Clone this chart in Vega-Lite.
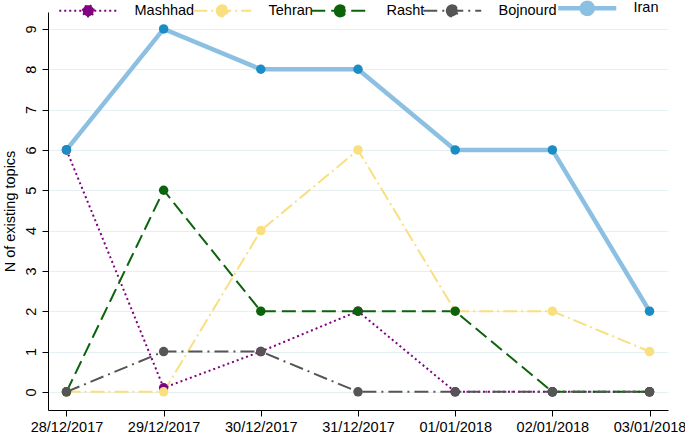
{
  "$schema": "https://vega.github.io/schema/vega-lite/v6.json",
  "autosize": "none",
  "width": 620,
  "height": 398,
  "padding": {"left": 48, "top": 12, "right": 17, "bottom": 31},
  "background": "white",
  "config": {
    "font": "Liberation Sans",
    "view": {"stroke": null},
    "axis": {"labelFont": "Liberation Sans", "titleFont": "Liberation Sans", "labelFontSize": 14.5, "titleFontSize": 14.5, "labelColor": "#000", "titleColor": "#000", "domainColor": "#000", "tickColor": "#000", "titleFontWeight": "normal"}
  },
  "data": {"values": [
    {"series": "Mashhad", "date": "28/12/2017", "value": 6},
    {"series": "Mashhad", "date": "29/12/2017", "value": 0.1},
    {"series": "Mashhad", "date": "30/12/2017", "value": 1},
    {"series": "Mashhad", "date": "31/12/2017", "value": 2},
    {"series": "Mashhad", "date": "01/01/2018", "value": 0},
    {"series": "Mashhad", "date": "02/01/2018", "value": 0},
    {"series": "Mashhad", "date": "03/01/2018", "value": 0},
    {"series": "Tehran", "date": "28/12/2017", "value": 0},
    {"series": "Tehran", "date": "29/12/2017", "value": 0},
    {"series": "Tehran", "date": "30/12/2017", "value": 4},
    {"series": "Tehran", "date": "31/12/2017", "value": 6},
    {"series": "Tehran", "date": "01/01/2018", "value": 2},
    {"series": "Tehran", "date": "02/01/2018", "value": 2},
    {"series": "Tehran", "date": "03/01/2018", "value": 1},
    {"series": "Rasht", "date": "28/12/2017", "value": 0},
    {"series": "Rasht", "date": "29/12/2017", "value": 5},
    {"series": "Rasht", "date": "30/12/2017", "value": 2},
    {"series": "Rasht", "date": "31/12/2017", "value": 2},
    {"series": "Rasht", "date": "01/01/2018", "value": 2},
    {"series": "Rasht", "date": "02/01/2018", "value": 0},
    {"series": "Rasht", "date": "03/01/2018", "value": 0},
    {"series": "Bojnourd", "date": "28/12/2017", "value": 0},
    {"series": "Bojnourd", "date": "29/12/2017", "value": 1},
    {"series": "Bojnourd", "date": "30/12/2017", "value": 1},
    {"series": "Bojnourd", "date": "31/12/2017", "value": 0},
    {"series": "Bojnourd", "date": "01/01/2018", "value": 0},
    {"series": "Bojnourd", "date": "02/01/2018", "value": 0},
    {"series": "Bojnourd", "date": "03/01/2018", "value": 0},
    {"series": "Iran", "date": "28/12/2017", "value": 6},
    {"series": "Iran", "date": "29/12/2017", "value": 9},
    {"series": "Iran", "date": "30/12/2017", "value": 8},
    {"series": "Iran", "date": "31/12/2017", "value": 8},
    {"series": "Iran", "date": "01/01/2018", "value": 6},
    {"series": "Iran", "date": "02/01/2018", "value": 6},
    {"series": "Iran", "date": "03/01/2018", "value": 2}
  ]},
  "encoding": {
    "x": {"field": "date", "type": "ordinal", "sort": null,
      "scale": {"type": "point", "padding": 0.19},
      "axis": {"title": null, "labelAngle": 0, "grid": false, "tickSize": 6, "labelPadding": 4, "domainWidth": 1}},
    "y": {"field": "value", "type": "quantitative",
      "scale": {"domain": [-0.45, 9.42], "nice": false, "zero": false},
      "axis": {"title": "N of existing topics", "values": [0,1,2,3,4,5,6,7,8,9], "labelAngle": -90, "labelAlign": "center", "labelBaseline": "bottom", "labelPadding": 4, "tickSize": 6, "grid": true, "gridColor": "#e6eff2", "gridWidth": 1, "titlePadding": 6}}
  },
  "layer": [
    {
      "transform": [{"filter": "datum.series !== 'Iran'"}],
      "mark": {"type": "line", "strokeWidth": 2},
      "encoding": {
        "color": {"field": "series", "type": "nominal",
          "scale": {"domain": ["Mashhad", "Tehran", "Rasht", "Bojnourd", "Iran"], "range": ["#800080", "#f9df7e", "#0b640b", "#555555", "#8cc0e2"]},
          "legend": {"title": null, "orient": "none", "legendX": 13, "legendY": -11, "direction": "horizontal",
            "symbolType": "M-1,0H1M-0.19,0A0.19,0.19 0 1,1 0.19,0A0.19,0.19 0 1,1 -0.19,0Z",
            "symbolSize": 3364, "symbolStrokeWidth": 2, "symbolOffset": 20, "labelFontSize": 14.5, "labelFont": "Liberation Sans", "labelColor": "#000", "labelOffset": 39, "columnPadding": -8,
            "encode": {"symbols": {"update": {
              "fill": {"signal": "({'Mashhad':'#800080','Tehran':'#f9df7e','Rasht':'#0b640b','Bojnourd':'#555555','Iran':'#1a8dc4'})[datum.value]"},
              "strokeWidth": {"signal": "datum.value === 'Iran' ? 4.5 : 2"}
            }}}}},
        "strokeDash": {"field": "series", "type": "nominal",
          "scale": {"domain": ["Mashhad", "Tehran", "Rasht", "Bojnourd", "Iran"], "range": [[2, 3], [14, 4, 2, 4], [14, 6], [14, 5, 2, 5], [1, 0]]}}
      }
    },
    {
      "transform": [{"filter": "datum.series === 'Iran'"}],
      "mark": {"type": "line", "strokeWidth": 4.5, "color": "#8cc0e2"},
      "encoding": {}
    },
    {
      "transform": [{"filter": "datum.series !== 'Iran'"}],
      "mark": {"type": "circle", "size": 90, "opacity": 1},
      "encoding": {"color": {"field": "series", "type": "nominal", "legend": null}}
    },
    {
      "transform": [{"filter": "datum.series === 'Iran'"}],
      "mark": {"type": "circle", "size": 90, "opacity": 1, "color": "#1a8dc4"},
      "encoding": {}
    }
  ]
}
